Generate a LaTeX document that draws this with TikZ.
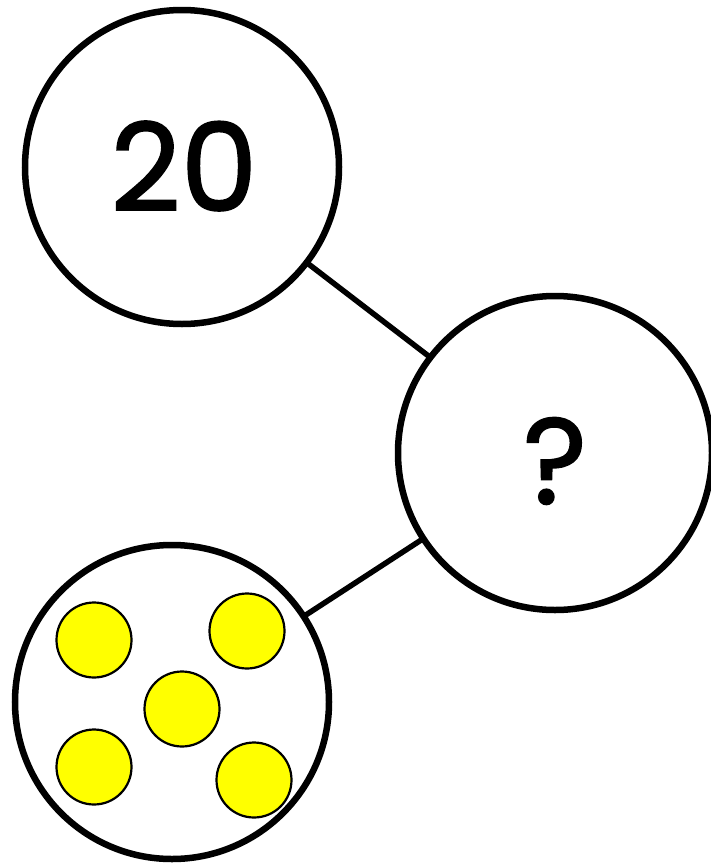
\documentclass[tikz,border=0pt]{standalone}
\usepackage{fontspec}
\newfontfamily\numfont{Poppins}[FakeBold=1.5]
\definecolor{dotyellow}{RGB}{255,255,0}
\begin{document}
\begin{tikzpicture}[x=1pt,y=-1pt,
  bigcirc/.style={circle,draw=black,line width=6.5pt,minimum size=314pt,inner sep=0pt,fill=white},
  dot/.style={circle,draw=black,line width=2.2pt,fill=dotyellow,minimum size=75pt,inner sep=0pt},
  link/.style={line width=5.5pt,draw=black},
  numtxt/.style={font=\numfont\fontsize{122}{122}\selectfont}]
\useasboundingbox (0,0) rectangle (710,865);
\coordinate (A) at (182,167);
\coordinate (B) at (555,453);
\coordinate (C) at (172,702);
\draw[link] (A) -- (B);
\draw[link] (C) -- (B);
\node[bigcirc] (top) at (A) {};
\node[bigcirc] (q) at (B) {};
\node[bigcirc] (bot) at (C) {};
\node[numtxt] (t20) at (184,166) {20};
\node[numtxt] (tq) at (555,461) {?};
\node[dot] (d1) at (94,640) {};
\node[dot] (d2) at (247,631) {};
\node[dot] (d3) at (182,709) {};
\node[dot] (d4) at (94,767) {};
\node[dot] (d5) at (254,780) {};
\end{tikzpicture}
\end{document}
